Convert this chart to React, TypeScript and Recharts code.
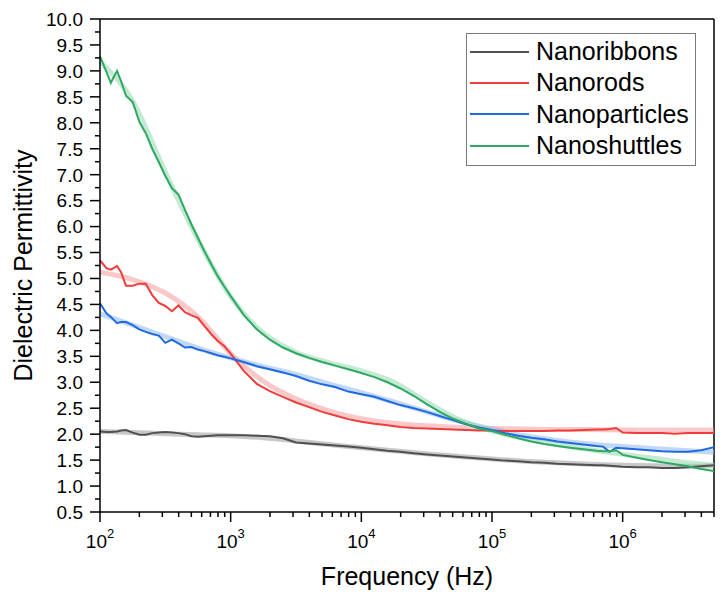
import React from 'react';
import { LineChart, Line, XAxis, YAxis, Legend, ReferenceLine, Label } from 'recharts';

// frequency grid (Hz) shared by the measured curves
const freq = [
  100, 112, 121, 135, 145, 158, 178, 200, 224, 251, 282, 316, 355, 398, 447, 501, 562, 631, 708, 794, 891, 1000,
  1259, 1585, 1995, 2512, 3162, 3981, 5012, 6310, 7943, 10000,
  12589, 15849, 19953, 25119, 31623, 39811, 50119, 63096, 79433, 100000,
  125893, 158489, 199526, 251189, 316228, 398107, 501187, 630957, 707946, 794328, 891251, 1000000,
  1258925, 1584893, 1995262, 2511886, 3162278, 3981072, 5000000,
];

const nanoribbons = [
  2.05, 2.04, 2.04, 2.05, 2.07, 2.08, 2.03, 1.99, 1.99, 2.02, 2.03, 2.04, 2.03, 2.02, 2.0, 1.96, 1.95, 1.96, 1.97, 1.98, 1.98, 1.98,
  1.98, 1.97, 1.96, 1.92, 1.84, 1.82, 1.8, 1.78, 1.76, 1.74,
  1.71, 1.68, 1.66, 1.63, 1.61, 1.59, 1.57, 1.55, 1.53, 1.51,
  1.49, 1.48, 1.46, 1.45, 1.43, 1.42, 1.41, 1.4, 1.4, 1.39, 1.38, 1.37,
  1.36, 1.36, 1.35, 1.35, 1.36, 1.38, 1.4,
];

const nanorods = [
  5.35, 5.2, 5.17, 5.24, 5.12, 4.86, 4.86, 4.9, 4.9, 4.68, 4.53, 4.47, 4.37, 4.48, 4.35, 4.29, 4.24, 4.08, 3.93, 3.8, 3.7, 3.55,
  3.22, 2.97, 2.83, 2.72, 2.61, 2.52, 2.43, 2.36, 2.29, 2.24,
  2.2, 2.17, 2.14, 2.12, 2.11, 2.1, 2.09, 2.08, 2.07, 2.07,
  2.06, 2.06, 2.06, 2.06, 2.07, 2.07, 2.08, 2.09, 2.09, 2.1, 2.12, 2.03,
  2.02, 2.02, 2.02, 2.01, 2.02, 2.02, 2.02,
];

const nanoparticles = [
  4.52, 4.33, 4.26, 4.14, 4.16, 4.16, 4.1, 4.02, 3.97, 3.93, 3.9, 3.76, 3.82, 3.75, 3.67, 3.68, 3.63, 3.6, 3.56, 3.52, 3.49, 3.46,
  3.39, 3.31, 3.25, 3.19, 3.12, 3.03, 2.96, 2.91, 2.82, 2.77,
  2.72, 2.64, 2.56, 2.5, 2.43, 2.35, 2.27, 2.19, 2.13, 2.08,
  2.02, 1.97, 1.93, 1.9, 1.86, 1.83, 1.8, 1.77, 1.76, 1.66, 1.74, 1.73,
  1.71, 1.69, 1.67, 1.66, 1.66, 1.69, 1.75,
];

const nanoshuttles = [
  9.28, 8.98, 8.77, 9.0, 8.8, 8.52, 8.4, 8.02, 7.8, 7.5, 7.24, 6.98, 6.74, 6.62, 6.32, 6.04, 5.78, 5.52, 5.28, 5.05, 4.85, 4.66,
  4.3, 4.02, 3.82, 3.67, 3.56, 3.47, 3.39, 3.32, 3.25, 3.18,
  3.1, 3.0, 2.88, 2.74, 2.58, 2.43, 2.3, 2.2, 2.11, 2.06,
  1.99, 1.92, 1.86, 1.81, 1.77, 1.74, 1.71, 1.68, 1.67, 1.67, 1.69, 1.6,
  1.55, 1.5, 1.46, 1.42, 1.38, 1.33, 1.29,
];

// fitted curves (light bands)
const fitFreq = [
  100, 178, 316, 562, 1000, 1778, 3162, 5623, 10000, 17783, 31623, 56234, 100000,
  177828, 316228, 562341, 1000000, 1778279, 3162278, 5000000,
];
const fitRibbons = [2.05, 2.03, 2.01, 1.99, 1.97, 1.93, 1.87, 1.8, 1.74, 1.68, 1.62, 1.57, 1.52, 1.48, 1.45, 1.42, 1.4, 1.39, 1.38, 1.39];
const fitRods = [5.12, 4.98, 4.72, 4.26, 3.55, 3.02, 2.68, 2.45, 2.3, 2.21, 2.16, 2.13, 2.11, 2.1, 2.09, 2.09, 2.08, 2.08, 2.08, 2.08];
const fitParticles = [4.32, 4.1, 3.88, 3.66, 3.47, 3.3, 3.15, 2.97, 2.8, 2.62, 2.43, 2.25, 2.1, 1.97, 1.88, 1.81, 1.76, 1.72, 1.68, 1.65];
const fitShuttles = [9.18, 8.42, 7.05, 5.75, 4.65, 3.95, 3.58, 3.38, 3.22, 3.0, 2.62, 2.28, 2.06, 1.92, 1.8, 1.7, 1.61, 1.53, 1.45, 1.4];

const xMajorTicks = [100, 1000, 10000, 100000, 1000000];
const xMinorTicks = [
  200, 300, 400, 500, 600, 700, 800, 900,
  2000, 3000, 4000, 5000, 6000, 7000, 8000, 9000,
  20000, 30000, 40000, 50000, 60000, 70000, 80000, 90000,
  200000, 300000, 400000, 500000, 600000, 700000, 800000, 900000,
  2000000, 3000000, 4000000, 5000000,
];
const yMajorTicks = [0.5, 1.0, 1.5, 2.0, 2.5, 3.0, 3.5, 4.0, 4.5, 5.0, 5.5, 6.0, 6.5, 7.0, 7.5, 8.0, 8.5, 9.0, 9.5, 10.0];
const yMinorTicks = yMajorTicks.slice(0, -1).map((v) => v + 0.25);

const series = [
  { key: 'ribbons', name: 'Nanoribbons', color: '#505050', fitColor: '#9a9a9a', values: nanoribbons, fit: fitRibbons },
  { key: 'rods', name: 'Nanorods', color: '#f03c3c', fitColor: '#f59a9a', values: nanorods, fit: fitRods },
  { key: 'particles', name: 'Nanoparticles', color: '#1f6ae0', fitColor: '#8fb8f0', values: nanoparticles, fit: fitParticles },
  { key: 'shuttles', name: 'Nanoshuttles', color: '#2ea862', fitColor: '#94d8b0', values: nanoshuttles, fit: fitShuttles },
];

const rows = freq.map((f, i) => {
  const row: Record<string, number> = { f };
  series.forEach((s) => (row[s.key] = s.values[i]));
  return row;
});

const fitRows = fitFreq.map((f, i) => {
  const row: Record<string, number> = { f };
  series.forEach((s) => (row[s.key] = s.fit[i]));
  return row;
});

const FONT = '"Liberation Sans", Arial, sans-serif';

const XTick = (props: any) => {
  const { x, y, payload } = props;
  const major = xMajorTicks.includes(payload.value);
  const exp = Math.round(Math.log10(payload.value));
  return (
    <g>
      <line x1={x} x2={x} y1={y} y2={y + (major ? 10 : 5)} stroke="#000" strokeWidth={1.5} />
      {major && (
        <text x={x} y={y + 36} textAnchor="middle" fontSize={19} fontFamily={FONT} fill="#000">
          10
          <tspan dy={-10} fontSize={13}>{exp}</tspan>
        </text>
      )}
    </g>
  );
};

const YTick = (props: any) => {
  const { x, y, payload } = props;
  const major = yMajorTicks.includes(payload.value);
  return (
    <g>
      <line x1={x - (major ? 10 : 5)} x2={x} y1={y} y2={y} stroke="#000" strokeWidth={1.5} />
      {major && (
        <text x={x - 17} y={y} dy="0.36em" textAnchor="end" fontSize={19} fontFamily={FONT} fill="#000">
          {payload.value.toFixed(1)}
        </text>
      )}
    </g>
  );
};

const LegendBox = () => (
  <div
    style={{
      border: '1px solid #7a7a7a',
      background: '#fff',
      width: 228,
      height: 129,
      boxSizing: 'content-box',
      fontFamily: FONT,
      fontSize: 25,
      color: '#000',
      paddingTop: 2,
    }}
  >
    {series.map((s) => (
      <div key={s.key} style={{ display: 'flex', alignItems: 'center', height: 31.3 }}>
        <div style={{ width: 59, height: 2, background: s.color, marginLeft: 3, marginRight: 7 }} />
        <span style={{ lineHeight: '25px' }}>{s.name}</span>
      </div>
    ))}
  </div>
);

const App: React.FC = () => {
  return (
    <div style={{ width: 727, height: 599, background: '#fff' }}>
      <style>{'body{margin:0;background:#fff}'}</style>
      <LineChart width={727} height={599} data={rows} margin={{ top: 19, right: 13, left: 0, bottom: 0 }}>
        <XAxis
          dataKey="f"
          type="number"
          scale="log"
          domain={[100, 5000000]}
          allowDataOverflow
          ticks={[...xMajorTicks, ...xMinorTicks].sort((a, b) => a - b)}
          interval={0}
          tick={<XTick />}
          tickLine={false}
          tickSize={0}
          tickMargin={0}
          height={87}
          axisLine={{ stroke: '#000', strokeWidth: 1.5 }}
        >
          <Label
            content={(p: any) => (
              <text
                x={p.viewBox.x + p.viewBox.width / 2}
                y={p.viewBox.y + 73}
                textAnchor="middle"
                fontSize={25}
                fontFamily={FONT}
                fill="#000"
              >
                Frequency (Hz)
              </text>
            )}
          />
        </XAxis>
        <YAxis
          type="number"
          domain={[0.5, 10]}
          allowDataOverflow
          ticks={[...yMajorTicks, ...yMinorTicks].sort((a, b) => a - b)}
          interval={0}
          tick={<YTick />}
          tickLine={false}
          tickSize={0}
          tickMargin={0}
          width={100}
          axisLine={{ stroke: '#000', strokeWidth: 1.5 }}
        >
          <Label
            content={(p: any) => {
              const cx = 32;
              const cy = p.viewBox.y + p.viewBox.height / 2;
              return (
                <text
                  x={cx}
                  y={cy}
                  transform={`rotate(-90 ${cx} ${cy})`}
                  textAnchor="middle"
                  fontSize={25}
                  fontFamily={FONT}
                  fill="#000"
                >
                  Dielectric Permittivity
                </text>
              );
            }}
          />
        </YAxis>
        <ReferenceLine y={10} stroke="#000" strokeWidth={1.5} />
        <ReferenceLine x={5000000} stroke="#000" strokeWidth={1.5} />
        {series.map((s) => (
          <Line
            key={'fit-' + s.key}
            data={fitRows}
            dataKey={s.key}
            type="monotone"
            stroke={s.fitColor}
            strokeOpacity={0.55}
            strokeWidth={5}
            dot={false}
            legendType="none"
            isAnimationActive={false}
          />
        ))}
        {series.map((s) => (
          <Line
            key={s.key}
            dataKey={s.key}
            name={s.name}
            type="linear"
            stroke={s.color}
            strokeWidth={2}
            dot={false}
            isAnimationActive={false}
          />
        ))}
        <Legend
          layout="horizontal"
          verticalAlign="middle"
          align="center"
          content={<LegendBox />}
          wrapperStyle={{ top: 33, left: 466, width: 230, height: 131, right: 'auto', bottom: 'auto' }}
        />
      </LineChart>
    </div>
  );
};

export default App;
